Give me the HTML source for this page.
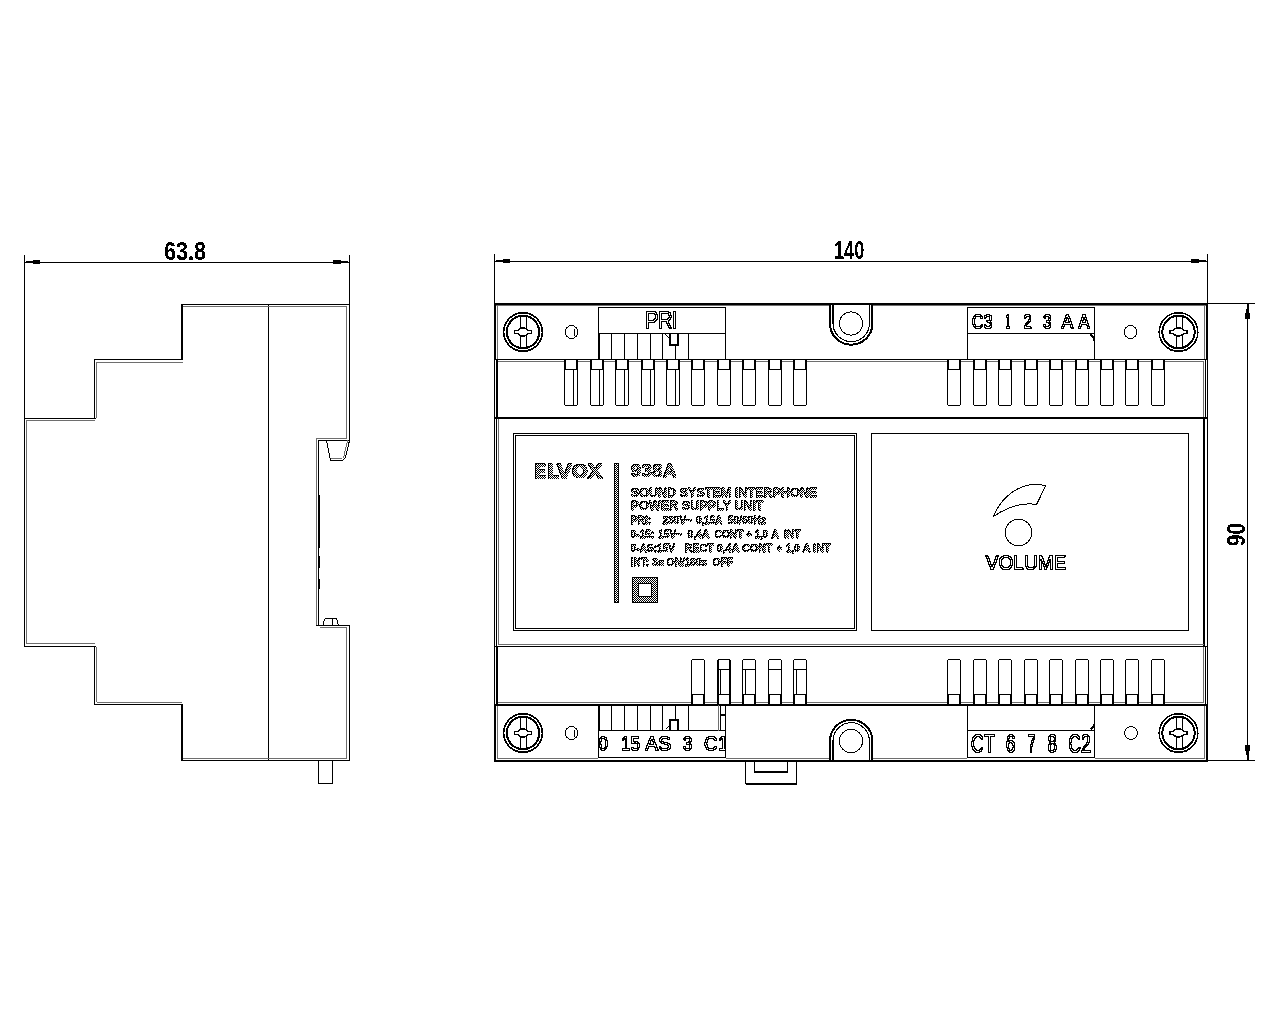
<!DOCTYPE html>
<html lang="en">
<head>
<meta charset="utf-8">
<title>938A Sound System Interphone Power Supply Unit - dimensions</title>
<style>
html,body{margin:0;padding:0;background:#fff;}
body{width:1280px;height:1024px;overflow:hidden;}
svg{display:block;}
text{font-family:"Liberation Sans",sans-serif;}
#ink rect{fill:#000;}
#ink .s{fill:none;stroke:#000;stroke-width:1;}
#ink .sw{fill:#fff;stroke:#000;stroke-width:1;}
#ink .aa{shape-rendering:geometricPrecision;}
#gray rect{fill:#6e6e6e;}
#gray .gs{fill:none;stroke:#6e6e6e;stroke-width:1;}
.dim{fill:#000;font-weight:bold;}
.out{fill:#000;}
.hat{fill:url(#chk);stroke:url(#chk);stroke-width:0.8;font-weight:bold;}
.logo{font-family:"DejaVu Sans","Liberation Sans",sans-serif;fill:url(#chk);stroke:url(#chk);stroke-width:1.1;font-weight:bold;}
#ink .hr{fill:url(#chk);stroke:none;}
</style>
</head>
<body>
<svg width="1280" height="1024" viewBox="0 0 1280 1024">
<defs>
<pattern id="chk" width="2" height="2" patternUnits="userSpaceOnUse">
<rect width="2" height="2" style="fill:#fff"/>
<rect width="1" height="1" style="fill:#000"/>
<rect x="1" y="1" width="1" height="1" style="fill:#000"/>
</pattern>
<clipPath id="cl1"><rect x="599" y="731" width="126" height="26"/></clipPath>
<filter id="lab" x="520" y="450" width="330" height="170" filterUnits="userSpaceOnUse" color-interpolation-filters="sRGB">
<feComponentTransfer in="SourceGraphic" result="S"><feFuncA type="discrete" tableValues="0 1"/></feComponentTransfer>
<feColorMatrix in="S" type="matrix" values="0 0 0 0 0  0 0 0 0 0  0 0 0 0 0  0 0 0 1 0" result="A"/>
<feMorphology in="A" operator="erode" radius="1" result="E"/>
<feComposite in="A" in2="E" operator="out" result="O"/>
<feMerge><feMergeNode in="S"/><feMergeNode in="O"/></feMerge>
</filter>
<filter id="labt" x="525" y="455" width="325" height="125" filterUnits="userSpaceOnUse" color-interpolation-filters="sRGB">
<feComponentTransfer in="SourceGraphic" result="S"><feFuncA type="discrete" tableValues="0 1"/></feComponentTransfer>
<feColorMatrix in="S" type="matrix" values="0 0 0 0 0  0 0 0 0 0  0 0 0 0 0  0 0 0 1 0" result="A"/>
<feOffset in="A" dx="1" dy="0" result="A1"/>
<feOffset in="A" dx="0" dy="1" result="A2"/>
<feOffset in="A" dx="1" dy="1" result="A3"/>
<feComposite in="A" in2="A1" operator="in" result="I1"/>
<feComposite in="I1" in2="A2" operator="in" result="I2"/>
<feComposite in="I2" in2="A3" operator="in" result="I3"/>
<feComposite in="A" in2="I3" operator="out" result="O"/>
<feMerge><feMergeNode in="S"/><feMergeNode in="O"/></feMerge>
</filter>
<filter id="ol" x="590" y="300" width="520" height="470" filterUnits="userSpaceOnUse" color-interpolation-filters="sRGB">
<feComponentTransfer in="SourceAlpha" result="A"><feFuncA type="discrete" tableValues="0 0 1 1 1"/></feComponentTransfer>
<feOffset in="A" dx="1" dy="0" result="A1"/>
<feOffset in="A" dx="0" dy="1" result="A2"/>
<feOffset in="A" dx="1" dy="1" result="A3"/>
<feMerge result="D"><feMergeNode in="A"/><feMergeNode in="A1"/><feMergeNode in="A2"/><feMergeNode in="A3"/></feMerge>
<feComposite in="A" in2="A1" operator="in" result="I1"/>
<feComposite in="I1" in2="A2" operator="in" result="I2"/>
<feComposite in="I2" in2="A3" operator="in" result="I3"/>
<feFlood flood-color="#fff" result="W"/>
<feComposite in="W" in2="I3" operator="in" result="I"/>
<feMerge><feMergeNode in="D"/><feMergeNode in="I"/></feMerge>
</filter>
<filter id="thr" x="0" y="0" width="1280" height="1024" filterUnits="userSpaceOnUse" color-interpolation-filters="sRGB">
<feColorMatrix type="saturate" values="0"/>
<feComponentTransfer>
<feFuncR type="discrete" tableValues="0 1"/>
<feFuncG type="discrete" tableValues="0 1"/>
<feFuncB type="discrete" tableValues="0 1"/>
</feComponentTransfer>
</filter>
</defs>
<g id="ink" filter="url(#thr)" shape-rendering="crispEdges">
<rect width="1280" height="1024" style="fill:#fff"/>
<g id="side-view">
<rect x="24" y="255" width="1" height="164"/>
<rect x="349" y="255" width="1" height="50"/>
<rect x="24" y="262" width="326" height="1"/>
<rect x="26" y="261" width="7" height="2"/>
<rect x="33" y="260" width="7" height="4"/>
<rect x="341" y="261" width="7" height="2"/>
<rect x="333" y="260" width="8" height="4"/>
<text x="164" y="260" class="dim" font-size="26" textLength="42.18" lengthAdjust="spacingAndGlyphs">63.8</text>
<rect x="181" y="304" width="169" height="1"/>
<rect x="181" y="304" width="2" height="56"/>
<rect x="95" y="359" width="88" height="1"/>
<rect x="94" y="359" width="1" height="60"/>
<rect x="24" y="418" width="72" height="1"/>
<rect x="24" y="418" width="1" height="229"/>
<rect x="24" y="646" width="72" height="1"/>
<rect x="94" y="646" width="1" height="59"/>
<rect x="94" y="704" width="89" height="1"/>
<rect x="181" y="704" width="2" height="57"/>
<rect x="181" y="760" width="169" height="1"/>
<rect x="349" y="304" width="1" height="137"/>
<rect x="318" y="440" width="32" height="1"/>
<rect x="318" y="440" width="1" height="186"/>
<rect x="316" y="625" width="34" height="1"/>
<rect x="349" y="625" width="1" height="136"/>
<rect x="268" y="304" width="1" height="457"/>
<path d="M326.5,440.5 L330.5,460.5 L342.5,460.5 L345.5,457.5 L349.5,440.5" class="s"/>
<path d="M323.5,625.5 V621.5 L325.5,618.5 H336.5 L338.5,625.5" class="s"/>
<rect x="332" y="619" width="1" height="7"/>
<rect x="319" y="495" width="1" height="53"/>
<rect x="319" y="556" width="1" height="12"/>
<rect x="319" y="579" width="1" height="10"/>
<rect x="318.5" y="760.5" width="14" height="23" class="sw"/>
</g>
<g id="front-view">
<rect x="494" y="254" width="1" height="50"/>
<rect x="1207" y="254" width="1" height="50"/>
<rect x="494" y="261" width="714" height="1"/>
<rect x="496" y="260" width="7" height="2"/>
<rect x="503" y="259" width="7" height="4"/>
<rect x="1199" y="260" width="7" height="2"/>
<rect x="1191" y="259" width="8" height="4"/>
<text x="834" y="259" class="dim" font-size="26" textLength="30.22" lengthAdjust="spacingAndGlyphs">140</text>
<rect x="1207" y="303" width="48" height="1"/>
<rect x="1207" y="760" width="48" height="1"/>
<rect x="1247" y="303" width="1" height="458"/>
<rect x="1247" y="304" width="2" height="6"/>
<rect x="1246" y="309" width="3" height="5"/>
<rect x="1245" y="313" width="5" height="6"/>
<rect x="1247" y="754" width="2" height="6"/>
<rect x="1246" y="750" width="3" height="5"/>
<rect x="1245" y="745" width="5" height="6"/>
<text x="0" y="0" class="dim" font-size="26" textLength="23.4" lengthAdjust="spacingAndGlyphs" transform="translate(1245.2,546.2) rotate(-90)">90</text>
<rect x="513.5" y="433.5" width="343" height="197" class="s"/>
<rect x="515.5" y="435.5" width="339" height="193" class="s"/>
<rect x="871.5" y="433.5" width="317" height="197" class="s"/>
<circle cx="523" cy="332" r="19.3" class="sw aa" style="stroke-width:1.5"/>
<circle cx="523" cy="332" r="16.2" class="sw aa" style="stroke-width:2"/>
<rect x="520" y="316" width="1" height="32"/>
<rect x="526" y="316" width="1" height="32"/>
<path d="M514.5,330.5 h3 q5.5,-5.5 11,0 h3 v3 h-3 q-5.5,5.5 -11,0 h-3 Z" class="sw aa" style="stroke-width:1.6"/>
<circle cx="523" cy="733" r="19.3" class="sw aa" style="stroke-width:1.5"/>
<circle cx="523" cy="733" r="16.2" class="sw aa" style="stroke-width:2"/>
<rect x="520" y="717" width="1" height="32"/>
<rect x="526" y="717" width="1" height="32"/>
<path d="M514.5,731.5 h3 q5.5,-5.5 11,0 h3 v3 h-3 q-5.5,5.5 -11,0 h-3 Z" class="sw aa" style="stroke-width:1.6"/>
<circle cx="1178.5" cy="332" r="19.3" class="sw aa" style="stroke-width:1.5"/>
<circle cx="1178.5" cy="332" r="16.2" class="sw aa" style="stroke-width:2"/>
<rect x="1175.5" y="316" width="1" height="32"/>
<rect x="1181.5" y="316" width="1" height="32"/>
<path d="M1170,330.5 h3 q5.5,-5.5 11,0 h3 v3 h-3 q-5.5,5.5 -11,0 h-3 Z" class="sw aa" style="stroke-width:1.6"/>
<circle cx="1178.5" cy="733" r="19.3" class="sw aa" style="stroke-width:1.5"/>
<circle cx="1178.5" cy="733" r="16.2" class="sw aa" style="stroke-width:2"/>
<rect x="1175.5" y="717" width="1" height="32"/>
<rect x="1181.5" y="717" width="1" height="32"/>
<path d="M1170,731.5 h3 q5.5,-5.5 11,0 h3 v3 h-3 q-5.5,5.5 -11,0 h-3 Z" class="sw aa" style="stroke-width:1.6"/>
<circle cx="571.5" cy="332" r="6.4" class="sw"/>
<rect x="573.5" y="328.5" width="1" height="7"/>
<circle cx="1130.5" cy="332" r="6.4" class="sw"/>
<circle cx="571.5" cy="733" r="6.4" class="sw"/>
<rect x="573.5" y="729.5" width="1" height="7"/>
<circle cx="1131" cy="733" r="6.4" class="sw"/>
<path d="M830,304 V323.5 A21.2,21.2 0 0 0 872.4,323.5 V304" class="sw aa" style="stroke-width:2"/>
<path d="M833,305 V323.5 A18.2,18.2 0 0 0 869.4,323.5 V305" class="s aa" style="stroke-width:1.1"/>
<circle cx="851" cy="323.5" r="11.6" class="sw"/>
<path d="M830,761 V741 A21.2,21.2 0 0 1 872.4,741 V761" class="sw aa" style="stroke-width:2"/>
<path d="M833,760 V741 A18.2,18.2 0 0 1 869.4,741 V760" class="s aa" style="stroke-width:1.1"/>
<circle cx="851" cy="741" r="11.6" class="sw"/>
<rect x="598.5" y="307.5" width="127" height="52" class="sw"/>
<rect x="598" y="333" width="128" height="1"/>
<rect x="611" y="333" width="1" height="27"/>
<rect x="624" y="333" width="1" height="27"/>
<rect x="637" y="333" width="1" height="27"/>
<rect x="650" y="333" width="1" height="27"/>
<rect x="662" y="333" width="1" height="27"/>
<rect x="688" y="333" width="1" height="27"/>
<rect x="675" y="345" width="1" height="15"/>
<rect x="599" y="333" width="1" height="27"/>
<path d="M670,333.5 V345 H678 V333.5" class="s" style="stroke-width:2"/>
<path d="M665.5,334.5 L669.5,338.5" class="s" style="stroke-width:1.3"/>
<rect x="967.5" y="307.5" width="127" height="52" class="sw"/>
<rect x="967" y="333" width="128" height="1"/>
<path d="M1090.5,334.5 L1093.5,337.5 V340.5" class="s" style="stroke-width:1.5"/>
<rect x="598.5" y="704.5" width="127" height="53" class="sw"/>
<rect x="598" y="730" width="128" height="1"/>
<rect x="611" y="705" width="1" height="26"/>
<rect x="624" y="705" width="1" height="26"/>
<rect x="637" y="705" width="1" height="26"/>
<rect x="650" y="705" width="1" height="26"/>
<rect x="662" y="705" width="1" height="26"/>
<rect x="688" y="705" width="1" height="26"/>
<rect x="675" y="705" width="1" height="15"/>
<rect x="599" y="705" width="1" height="26"/>
<path d="M670,730.5 V720 H678 V730.5" class="s" style="stroke-width:2"/>
<path d="M665.5,729.5 L669.5,725.5" class="s" style="stroke-width:1.3"/>
<rect x="720" y="705" width="1" height="26"/>
<rect x="720" y="714" width="6" height="2"/>
<rect x="967.5" y="704.5" width="127" height="53" class="sw"/>
<rect x="967" y="730" width="128" height="1"/>
<path d="M1090.5,729.5 L1093.5,726.5 V723.5" class="s" style="stroke-width:1.5"/>
<path d="M564.5,359.5 V404.5 L565.5,405.5 H576.5 L577.5,404.5 V359.5" class="sw"/>
<rect x="565" y="360" width="1" height="10"/>
<rect x="576" y="360" width="1" height="10"/>
<rect x="564" y="369" width="14" height="1"/>
<rect x="573" y="370" width="1" height="36"/>
<path d="M590.5,359.5 V404.5 L591.5,405.5 H602.5 L603.5,404.5 V359.5" class="sw"/>
<rect x="591" y="360" width="1" height="10"/>
<rect x="602" y="360" width="1" height="10"/>
<rect x="590" y="369" width="14" height="1"/>
<rect x="599" y="370" width="1" height="36"/>
<path d="M615.5,359.5 V404.5 L616.5,405.5 H627.5 L628.5,404.5 V359.5" class="sw"/>
<rect x="616" y="360" width="1" height="10"/>
<rect x="627" y="360" width="1" height="10"/>
<rect x="615" y="369" width="14" height="1"/>
<rect x="624" y="370" width="1" height="36"/>
<path d="M641.5,359.5 V404.5 L642.5,405.5 H653.5 L654.5,404.5 V359.5" class="sw"/>
<rect x="642" y="360" width="1" height="10"/>
<rect x="653" y="360" width="1" height="10"/>
<rect x="641" y="369" width="14" height="1"/>
<rect x="650" y="370" width="1" height="36"/>
<path d="M666.5,359.5 V404.5 L667.5,405.5 H678.5 L679.5,404.5 V359.5" class="sw"/>
<rect x="667" y="360" width="1" height="10"/>
<rect x="678" y="360" width="1" height="10"/>
<rect x="666" y="369" width="14" height="1"/>
<rect x="675" y="370" width="1" height="36"/>
<path d="M691.5,359.5 V404.5 L692.5,405.5 H703.5 L704.5,404.5 V359.5" class="sw"/>
<rect x="692" y="360" width="1" height="10"/>
<rect x="703" y="360" width="1" height="10"/>
<rect x="691" y="369" width="14" height="1"/>
<path d="M717.5,359.5 V404.5 L718.5,405.5 H729.5 L730.5,404.5 V359.5" class="sw"/>
<rect x="718" y="360" width="1" height="10"/>
<rect x="729" y="360" width="1" height="10"/>
<rect x="717" y="369" width="14" height="1"/>
<path d="M742.5,359.5 V404.5 L743.5,405.5 H754.5 L755.5,404.5 V359.5" class="sw"/>
<rect x="743" y="360" width="1" height="10"/>
<rect x="754" y="360" width="1" height="10"/>
<rect x="742" y="369" width="14" height="1"/>
<path d="M768.5,359.5 V404.5 L769.5,405.5 H780.5 L781.5,404.5 V359.5" class="sw"/>
<rect x="769" y="360" width="1" height="10"/>
<rect x="780" y="360" width="1" height="10"/>
<rect x="768" y="369" width="14" height="1"/>
<path d="M793.5,359.5 V404.5 L794.5,405.5 H805.5 L806.5,404.5 V359.5" class="sw"/>
<rect x="794" y="360" width="1" height="10"/>
<rect x="805" y="360" width="1" height="10"/>
<rect x="793" y="369" width="14" height="1"/>
<path d="M947.5,359.5 V404.5 L948.5,405.5 H959.5 L960.5,404.5 V359.5" class="sw"/>
<rect x="948" y="360" width="1" height="10"/>
<rect x="959" y="360" width="1" height="10"/>
<rect x="947" y="369" width="14" height="1"/>
<path d="M973.5,359.5 V404.5 L974.5,405.5 H985.5 L986.5,404.5 V359.5" class="sw"/>
<rect x="974" y="360" width="1" height="10"/>
<rect x="985" y="360" width="1" height="10"/>
<rect x="973" y="369" width="14" height="1"/>
<path d="M998.5,359.5 V404.5 L999.5,405.5 H1010.5 L1011.5,404.5 V359.5" class="sw"/>
<rect x="999" y="360" width="1" height="10"/>
<rect x="1010" y="360" width="1" height="10"/>
<rect x="998" y="369" width="14" height="1"/>
<path d="M1024.5,359.5 V404.5 L1025.5,405.5 H1036.5 L1037.5,404.5 V359.5" class="sw"/>
<rect x="1025" y="360" width="1" height="10"/>
<rect x="1036" y="360" width="1" height="10"/>
<rect x="1024" y="369" width="14" height="1"/>
<path d="M1049.5,359.5 V404.5 L1050.5,405.5 H1061.5 L1062.5,404.5 V359.5" class="sw"/>
<rect x="1050" y="360" width="1" height="10"/>
<rect x="1061" y="360" width="1" height="10"/>
<rect x="1049" y="369" width="14" height="1"/>
<path d="M1075.5,359.5 V404.5 L1076.5,405.5 H1087.5 L1088.5,404.5 V359.5" class="sw"/>
<rect x="1076" y="360" width="1" height="10"/>
<rect x="1087" y="360" width="1" height="10"/>
<rect x="1075" y="369" width="14" height="1"/>
<path d="M1100.5,359.5 V404.5 L1101.5,405.5 H1112.5 L1113.5,404.5 V359.5" class="sw"/>
<rect x="1101" y="360" width="1" height="10"/>
<rect x="1112" y="360" width="1" height="10"/>
<rect x="1100" y="369" width="14" height="1"/>
<path d="M1125.5,359.5 V404.5 L1126.5,405.5 H1137.5 L1138.5,404.5 V359.5" class="sw"/>
<rect x="1126" y="360" width="1" height="10"/>
<rect x="1137" y="360" width="1" height="10"/>
<rect x="1125" y="369" width="14" height="1"/>
<path d="M1151.5,359.5 V404.5 L1152.5,405.5 H1163.5 L1164.5,404.5 V359.5" class="sw"/>
<rect x="1152" y="360" width="1" height="10"/>
<rect x="1163" y="360" width="1" height="10"/>
<rect x="1151" y="369" width="14" height="1"/>
<path d="M691.5,704.5 V660.5 L692.5,659.5 H703.5 L704.5,660.5 V704.5" class="sw"/>
<rect x="692" y="695" width="1" height="10"/>
<rect x="703" y="695" width="1" height="10"/>
<rect x="691" y="694" width="14" height="1"/>
<path d="M717.5,704.5 V660.5 L718.5,659.5 H729.5 L730.5,660.5 V704.5" class="sw"/>
<rect x="718" y="695" width="1" height="10"/>
<rect x="729" y="695" width="1" height="10"/>
<rect x="717" y="694" width="14" height="1"/>
<rect x="717" y="669" width="14" height="1"/>
<rect x="718" y="660" width="1" height="35"/>
<rect x="720" y="669" width="1" height="26"/>
<rect x="729" y="660" width="1" height="35"/>
<path d="M742.5,704.5 V660.5 L743.5,659.5 H754.5 L755.5,660.5 V704.5" class="sw"/>
<rect x="743" y="695" width="1" height="10"/>
<rect x="754" y="695" width="1" height="10"/>
<rect x="742" y="694" width="14" height="1"/>
<rect x="742" y="669" width="14" height="1"/>
<rect x="745" y="669" width="1" height="26"/>
<path d="M768.5,704.5 V660.5 L769.5,659.5 H780.5 L781.5,660.5 V704.5" class="sw"/>
<rect x="769" y="695" width="1" height="10"/>
<rect x="780" y="695" width="1" height="10"/>
<rect x="768" y="694" width="14" height="1"/>
<rect x="768" y="669" width="14" height="1"/>
<path d="M793.5,704.5 V660.5 L794.5,659.5 H805.5 L806.5,660.5 V704.5" class="sw"/>
<rect x="794" y="695" width="1" height="10"/>
<rect x="805" y="695" width="1" height="10"/>
<rect x="793" y="694" width="14" height="1"/>
<rect x="793" y="669" width="14" height="1"/>
<rect x="796" y="669" width="1" height="26"/>
<path d="M947.5,704.5 V660.5 L948.5,659.5 H959.5 L960.5,660.5 V704.5" class="sw"/>
<rect x="948" y="695" width="1" height="10"/>
<rect x="959" y="695" width="1" height="10"/>
<rect x="947" y="694" width="14" height="1"/>
<path d="M973.5,704.5 V660.5 L974.5,659.5 H985.5 L986.5,660.5 V704.5" class="sw"/>
<rect x="974" y="695" width="1" height="10"/>
<rect x="985" y="695" width="1" height="10"/>
<rect x="973" y="694" width="14" height="1"/>
<path d="M998.5,704.5 V660.5 L999.5,659.5 H1010.5 L1011.5,660.5 V704.5" class="sw"/>
<rect x="999" y="695" width="1" height="10"/>
<rect x="1010" y="695" width="1" height="10"/>
<rect x="998" y="694" width="14" height="1"/>
<path d="M1024.5,704.5 V660.5 L1025.5,659.5 H1036.5 L1037.5,660.5 V704.5" class="sw"/>
<rect x="1025" y="695" width="1" height="10"/>
<rect x="1036" y="695" width="1" height="10"/>
<rect x="1024" y="694" width="14" height="1"/>
<path d="M1049.5,704.5 V660.5 L1050.5,659.5 H1061.5 L1062.5,660.5 V704.5" class="sw"/>
<rect x="1050" y="695" width="1" height="10"/>
<rect x="1061" y="695" width="1" height="10"/>
<rect x="1049" y="694" width="14" height="1"/>
<path d="M1075.5,704.5 V660.5 L1076.5,659.5 H1087.5 L1088.5,660.5 V704.5" class="sw"/>
<rect x="1076" y="695" width="1" height="10"/>
<rect x="1087" y="695" width="1" height="10"/>
<rect x="1075" y="694" width="14" height="1"/>
<path d="M1100.5,704.5 V660.5 L1101.5,659.5 H1112.5 L1113.5,660.5 V704.5" class="sw"/>
<rect x="1101" y="695" width="1" height="10"/>
<rect x="1112" y="695" width="1" height="10"/>
<rect x="1100" y="694" width="14" height="1"/>
<path d="M1125.5,704.5 V660.5 L1126.5,659.5 H1137.5 L1138.5,660.5 V704.5" class="sw"/>
<rect x="1126" y="695" width="1" height="10"/>
<rect x="1137" y="695" width="1" height="10"/>
<rect x="1125" y="694" width="14" height="1"/>
<path d="M1151.5,704.5 V660.5 L1152.5,659.5 H1163.5 L1164.5,660.5 V704.5" class="sw"/>
<rect x="1152" y="695" width="1" height="10"/>
<rect x="1163" y="695" width="1" height="10"/>
<rect x="1151" y="694" width="14" height="1"/>
<rect x="494" y="303" width="714" height="2"/>
<rect x="494" y="760" width="714" height="2"/>
<rect x="494" y="359" width="714" height="1"/>
<rect x="494" y="417" width="714" height="2"/>
<rect x="494" y="646" width="714" height="1"/>
<rect x="494" y="704" width="714" height="2"/>
<rect x="494" y="303" width="1" height="459"/>
<rect x="495" y="303" width="1" height="57"/>
<rect x="495" y="704" width="1" height="58"/>
<rect x="496" y="360" width="2" height="58"/>
<rect x="496" y="647" width="2" height="57"/>
<rect x="496" y="419" width="1" height="227"/>
<rect x="1207" y="303" width="1" height="459"/>
<rect x="1206" y="303" width="1" height="57"/>
<rect x="1206" y="704" width="1" height="58"/>
<rect x="1205" y="360" width="1" height="58"/>
<rect x="1205" y="647" width="1" height="57"/>
<rect x="1203" y="419" width="2" height="227"/>
<path d="M745.5,761.5 V783.5 H796.5 V761.5" class="sw"/>
<rect x="746" y="783" width="51" height="2"/>
<path d="M754.5,761.5 V771.5 H787.5 V761.5" class="sw"/>
<rect x="754" y="771" width="34" height="2"/>
<path d="M993.5,516.5 C1001,497 1019,483.5 1038,484.3 L1045.8,485.7 L1036.5,504.5 C1021,502 1005,508.5 993.5,516.5 Z" class="sw"/>
<circle cx="1018.5" cy="532.5" r="13.3" class="sw"/>
<g id="terminal-text" filter="url(#ol)">
<text x="645" y="328" class="out" font-size="23" textLength="32.19" lengthAdjust="spacingAndGlyphs">PRI</text>
<text x="985.2" y="568.6" class="out" font-size="19.29" textLength="80.81" lengthAdjust="spacingAndGlyphs">VOLUME</text>
<text x="971.2" y="328.2" class="out" font-size="20.86" textLength="20.81" lengthAdjust="spacingAndGlyphs">C3</text>
<text x="1005" y="328.2" class="out" font-size="20.86" textLength="4.61" lengthAdjust="spacingAndGlyphs">1</text>
<text x="1023" y="328.2" class="out" font-size="20.86" textLength="8.22" lengthAdjust="spacingAndGlyphs">2</text>
<text x="1042.5" y="328.2" class="out" font-size="20.86" textLength="8.52" lengthAdjust="spacingAndGlyphs">3</text>
<text x="1061" y="328.2" class="out" font-size="20.86" textLength="11.79" lengthAdjust="spacingAndGlyphs">A</text>
<text x="1077.9" y="328.2" class="out" font-size="20.86" textLength="11.19" lengthAdjust="spacingAndGlyphs">A</text>
<g clip-path="url(#cl1)">
<text x="598.2" y="750.4" class="out" font-size="20.86" textLength="9.02" lengthAdjust="spacingAndGlyphs">0</text>
<text x="620.4" y="750.4" class="out" font-size="20.86" textLength="19" lengthAdjust="spacingAndGlyphs">15</text>
<text x="644.8" y="750.4" class="out" font-size="20.86" textLength="25.78" lengthAdjust="spacingAndGlyphs">AS</text>
<text x="682.4" y="750.4" class="out" font-size="20.86" textLength="9.22" lengthAdjust="spacingAndGlyphs">3</text>
<text x="703.6" y="750.4" class="out" font-size="20.86" textLength="24.02" lengthAdjust="spacingAndGlyphs">C1</text>
</g>
<text x="970.6" y="752.3" class="out" font-size="26.43" textLength="23.41" lengthAdjust="spacingAndGlyphs">CT</text>
<text x="1005.6" y="752.3" class="out" font-size="26.43" textLength="9.42" lengthAdjust="spacingAndGlyphs">6</text>
<text x="1026.9" y="752.3" class="out" font-size="26.43" textLength="8.12" lengthAdjust="spacingAndGlyphs">7</text>
<text x="1047.2" y="752.3" class="out" font-size="26.43" textLength="9.12" lengthAdjust="spacingAndGlyphs">8</text>
<text x="1067.8" y="752.3" class="out" font-size="26.43" textLength="22.52" lengthAdjust="spacingAndGlyphs">C2</text>
</g>
<g id="label-mark" filter="url(#lab)">
<rect x="614" y="463" width="5" height="140" class="hr"/>
<path d="M632,577 H658 V603 H632 Z M639,584 V596 H651 V584 Z" class="hr" fill-rule="evenodd"/>
</g>
<g id="label-text" filter="url(#labt)">
<text x="533.5" y="477.9" class="logo" font-size="19.48" textLength="68.99" lengthAdjust="spacingAndGlyphs">ELVOX</text>
<text x="630.8" y="476.8" class="hat" font-size="18.8" textLength="45.81" lengthAdjust="spacingAndGlyphs">938A</text>
<text x="630.8" y="496.7" class="hat" font-size="13" textLength="186.6" lengthAdjust="spacingAndGlyphs">SOUND SYSTEM INTERPHONE</text>
<text x="630.8" y="509.6" class="hat" font-size="13" textLength="133" lengthAdjust="spacingAndGlyphs">POWER SUPPLY UNIT</text>
<text x="630.8" y="523.5" class="hat" font-size="10.2" textLength="20.4" lengthAdjust="spacingAndGlyphs">PRI:</text>
<text x="662.6" y="523.5" class="hat" font-size="10.2" textLength="29.59" lengthAdjust="spacingAndGlyphs">230V~</text>
<text x="696.2" y="523.5" class="hat" font-size="10.2" textLength="26.01" lengthAdjust="spacingAndGlyphs">0,15A</text>
<text x="727.8" y="523.5" class="hat" font-size="10.2" textLength="38.4" lengthAdjust="spacingAndGlyphs">50/60Hz</text>
<text x="630.8" y="537.5" class="hat" font-size="10.2" textLength="23.2" lengthAdjust="spacingAndGlyphs">0-15:</text>
<text x="658.2" y="537.5" class="hat" font-size="10.2" textLength="24.01" lengthAdjust="spacingAndGlyphs">15V~</text>
<text x="687.6" y="537.5" class="hat" font-size="10.2" textLength="22" lengthAdjust="spacingAndGlyphs">0,4A</text>
<text x="714.5" y="537.5" class="hat" font-size="10.2" textLength="29.01" lengthAdjust="spacingAndGlyphs">CONT</text>
<text x="746.2" y="537.5" class="hat" font-size="10.2" textLength="5.59" lengthAdjust="spacingAndGlyphs">+</text>
<text x="754.8" y="537.5" class="hat" font-size="10.2" textLength="13.4" lengthAdjust="spacingAndGlyphs">1,0</text>
<text x="771.2" y="537.5" class="hat" font-size="10.2" textLength="7.8" lengthAdjust="spacingAndGlyphs">A</text>
<text x="784.2" y="537.5" class="hat" font-size="10.2" textLength="16.61" lengthAdjust="spacingAndGlyphs">INT</text>
<text x="630.8" y="551.6" class="hat" font-size="10.2" textLength="44.21" lengthAdjust="spacingAndGlyphs">0-AS:15V</text>
<text x="684.8" y="551.6" class="hat" font-size="10.2" textLength="29" lengthAdjust="spacingAndGlyphs">RECT</text>
<text x="716.8" y="551.6" class="hat" font-size="10.2" textLength="22.8" lengthAdjust="spacingAndGlyphs">0,4A</text>
<text x="742.3" y="551.6" class="hat" font-size="10.2" textLength="30.11" lengthAdjust="spacingAndGlyphs">CONT</text>
<text x="776.7" y="551.6" class="hat" font-size="10.2" textLength="5.39" lengthAdjust="spacingAndGlyphs">+</text>
<text x="786.1" y="551.6" class="hat" font-size="10.2" textLength="13.6" lengthAdjust="spacingAndGlyphs">1,0</text>
<text x="802.5" y="551.6" class="hat" font-size="10.2" textLength="8.2" lengthAdjust="spacingAndGlyphs">A</text>
<text x="813.1" y="551.6" class="hat" font-size="10.2" textLength="17.91" lengthAdjust="spacingAndGlyphs">INT</text>
<text x="630.8" y="566.1" class="hat" font-size="10.2" textLength="18.21" lengthAdjust="spacingAndGlyphs">INT:</text>
<text x="652.3" y="566.1" class="hat" font-size="10.2" textLength="11.9" lengthAdjust="spacingAndGlyphs">3s</text>
<text x="666.8" y="566.1" class="hat" font-size="10.2" textLength="40.3" lengthAdjust="spacingAndGlyphs">ON/180s</text>
<text x="712.8" y="566.1" class="hat" font-size="10.2" textLength="20.4" lengthAdjust="spacingAndGlyphs">OFF</text>
</g>
</g>
</g>
<g id="gray" shape-rendering="crispEdges">
<rect x="183" y="306" width="164" height="1"/>
<rect x="97" y="362" width="86" height="1"/>
<rect x="96" y="362" width="1" height="56"/>
<rect x="26" y="420" width="69" height="1"/>
<rect x="26" y="420" width="1" height="224"/>
<rect x="26" y="643" width="69" height="1"/>
<rect x="96" y="647" width="1" height="55"/>
<rect x="97" y="702" width="85" height="1"/>
<rect x="183" y="758" width="164" height="1"/>
<rect x="346" y="306" width="1" height="133"/>
<rect x="316" y="438" width="31" height="1"/>
<rect x="316" y="438" width="1" height="187"/>
<rect x="346" y="627" width="1" height="132"/>
<rect x="320" y="627" width="27" height="1"/>
<path d="M343.5,458 L347.5,440.5" class="gs"/>
<rect x="331" y="458" width="11" height="1"/>
<rect x="718" y="705" width="1" height="26"/>
<rect x="496" y="305" width="333" height="1"/>
<rect x="873" y="305" width="333" height="1"/>
<rect x="497" y="758" width="101" height="1"/>
<rect x="726" y="758" width="103" height="1"/>
<rect x="873" y="758" width="94" height="1"/>
<rect x="1095" y="758" width="110" height="1"/>
<rect x="498" y="361" width="66" height="1"/>
<rect x="578" y="361" width="12" height="1"/>
<rect x="604" y="361" width="11" height="1"/>
<rect x="629" y="361" width="12" height="1"/>
<rect x="655" y="361" width="11" height="1"/>
<rect x="680" y="361" width="11" height="1"/>
<rect x="705" y="361" width="12" height="1"/>
<rect x="731" y="361" width="11" height="1"/>
<rect x="756" y="361" width="12" height="1"/>
<rect x="782" y="361" width="11" height="1"/>
<rect x="807" y="361" width="140" height="1"/>
<rect x="961" y="361" width="12" height="1"/>
<rect x="987" y="361" width="11" height="1"/>
<rect x="1012" y="361" width="12" height="1"/>
<rect x="1038" y="361" width="11" height="1"/>
<rect x="1063" y="361" width="12" height="1"/>
<rect x="1089" y="361" width="11" height="1"/>
<rect x="1114" y="361" width="11" height="1"/>
<rect x="1139" y="361" width="12" height="1"/>
<rect x="1165" y="361" width="39" height="1"/>
<rect x="498" y="644" width="706" height="1"/>
<rect x="498" y="702" width="193" height="1"/>
<rect x="705" y="702" width="12" height="1"/>
<rect x="731" y="702" width="11" height="1"/>
<rect x="756" y="702" width="12" height="1"/>
<rect x="782" y="702" width="11" height="1"/>
<rect x="807" y="702" width="140" height="1"/>
<rect x="961" y="702" width="12" height="1"/>
<rect x="987" y="702" width="11" height="1"/>
<rect x="1012" y="702" width="12" height="1"/>
<rect x="1038" y="702" width="11" height="1"/>
<rect x="1063" y="702" width="12" height="1"/>
<rect x="1089" y="702" width="11" height="1"/>
<rect x="1114" y="702" width="11" height="1"/>
<rect x="1139" y="702" width="12" height="1"/>
<rect x="1165" y="702" width="39" height="1"/>
<rect x="497" y="306" width="1" height="53"/>
<rect x="497" y="706" width="1" height="52"/>
<rect x="498" y="419" width="1" height="225"/>
<rect x="1204" y="306" width="1" height="53"/>
<rect x="1204" y="706" width="1" height="52"/>
<rect x="1203" y="362" width="1" height="55"/>
<rect x="1203" y="647" width="1" height="55"/>
</g>
</svg>
</body>
</html>
